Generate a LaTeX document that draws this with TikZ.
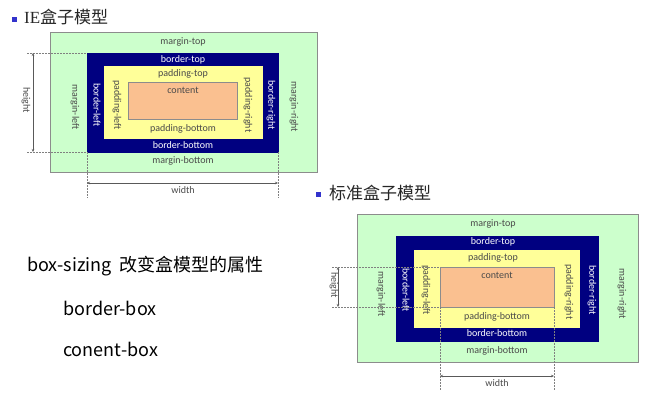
\documentclass[tikz,border=0pt]{standalone}
\usepackage{fontspec}
\setmainfont{Carlito}
\newfontfamily\cjk{Noto Sans CJK SC}
\newfontfamily\titlelat{Liberation Serif}
\usetikzlibrary{arrows.meta}
\definecolor{mgreen}{HTML}{CCFFCC}
\definecolor{bnavy}{HTML}{000080}
\definecolor{pyellow}{HTML}{FFFF99}
\definecolor{corange}{HTML}{FAC090}
\definecolor{lbl}{HTML}{4A4A4A}
\definecolor{bulletc}{HTML}{3333CC}
\definecolor{edgec}{HTML}{8C8C8C}
\begin{document}
\begin{tikzpicture}[x=1pt,y=-1pt,
  boxr/.style={draw=edgec, line width=0.6pt, inner sep=0pt, outer sep=0pt, anchor=north west},
  lab/.style={font=\fontsize{10}{11}\selectfont, text=lbl, inner sep=0pt},
  wlab/.style={lab, text=white},
  vlab/.style={lab, rotate=-90},
  vwlab/.style={wlab, rotate=-90},
  dimdash/.style={draw=gray, line width=0.5pt, dash pattern=on 1.5pt off 1.5pt},
  dimarrow/.style={draw=gray!70!black, line width=0.6pt, {Stealth[length=3pt,width=2.5pt]}-{Stealth[length=3pt,width=2.5pt]}},
  bulletsq/.style={fill=bulletc, inner sep=0pt, minimum size=5pt, anchor=north west},
  ttl/.style={font=\fontsize{17}{19}\selectfont, inner sep=0pt, anchor=west, text=black!85},
  body/.style={font=\cjk\fontsize{18}{21}\selectfont, inner sep=0pt, anchor=west}
]
\useasboundingbox (0,0) rectangle (661,404);

% ---------------- IE box model ----------------
\node[bulletsq] (b1) at (12,17) {};
\node[ttl] (t1) at (24,17) {\titlelat IE\cjk 盒子模型};

\node[boxr, fill=mgreen, minimum width=267pt, minimum height=140pt] (ieM) at (50,32) {};
\node[boxr, draw=bnavy, fill=bnavy, minimum width=191pt, minimum height=99pt] (ieB) at (87,53) {};
\node[boxr, draw=pyellow, fill=pyellow, minimum width=158pt, minimum height=72pt] (ieP) at (104,66) {};
\node[boxr, fill=corange, minimum width=109pt, minimum height=37pt] (ieC) at (128,82) {};

\node[lab] (ie1) at (183,42) {margin-top};
\node[wlab] (ie2) at (183,60) {border-top};
\node[lab] (ie3) at (183,74) {padding-top};
\node[lab] (ie4) at (183,90) {content};
\node[lab] (ie5) at (183,129) {padding-bottom};
\node[wlab] (ie6) at (183,145) {border-bottom};
\node[lab] (ie7) at (183,161) {margin-bottom};
\node[vlab] (ie8) at (75,107) {margin-left};
\node[vwlab] (ie9) at (97,105) {border-left};
\node[vlab] (ie10) at (117,105) {padding-left};
\node[vlab] (ie11) at (248,105) {padding-right};
\node[vwlab] (ie12) at (271,105) {border-right};
\node[vlab] (ie13) at (294,107) {margin-right};

\coordinate (ieh1) at (27,53);
\coordinate (ieh2) at (27,152);
\coordinate (iea1) at (33,53);
\coordinate (iea2) at (33,152);
\draw[dimdash] (ieh1) -- (ieB.north west);
\draw[dimdash] (ieh2) -- (ieB.south west);
\draw[dimarrow] (iea1) -- (iea2);
\node[vlab] (ieh) at (26,100) {height};

\coordinate (iew1) at (87,198);
\coordinate (iew2) at (278,198);
\coordinate (ieb1) at (87,183);
\coordinate (ieb2) at (278,183);
\draw[dimdash] (ieB.south west) -- (iew1);
\draw[dimdash] (ieB.south east) -- (iew2);
\draw[dimarrow] (ieb1) -- (ieb2);
\node[lab] (iew) at (183,190) {width};

% ---------------- standard box model ----------------
\node[bulletsq] (b2) at (316,192) {};
\node[ttl] (t2) at (329,193) {\cjk 标准盒子模型};

\node[boxr, fill=mgreen, minimum width=281pt, minimum height=148pt] (sM) at (357,214) {};
\node[boxr, draw=bnavy, fill=bnavy, minimum width=202pt, minimum height=105pt] (sB) at (396,236) {};
\node[boxr, draw=pyellow, fill=pyellow, minimum width=165pt, minimum height=77pt] (sP) at (414,250) {};
\node[boxr, fill=corange, minimum width=114pt, minimum height=40pt] (sC) at (440,267) {};

\node[lab] (s1) at (493,224) {margin-top};
\node[wlab] (s2) at (493,242) {border-top};
\node[lab] (s3) at (493,258) {padding-top};
\node[lab] (s4) at (497,275) {content};
\node[lab] (s5) at (497,317) {padding-bottom};
\node[wlab] (s6) at (497,333) {border-bottom};
\node[lab] (s7) at (497,351) {margin-bottom};
\node[vlab] (s8) at (381,294) {margin-left};
\node[vwlab] (s9) at (406,290) {border-left};
\node[vlab] (s10) at (426,290) {padding-left};
\node[vlab] (s11) at (569,292) {padding-right};
\node[vwlab] (s12) at (592,290) {border-right};
\node[vlab] (s13) at (622,294) {margin-right};

\coordinate (sh1) at (332,267);
\coordinate (sh2) at (332,307);
\coordinate (sa1) at (338,267);
\coordinate (sa2) at (338,307);
\draw[dimdash] (sh1) -- (sC.north west);
\draw[dimdash] (sh2) -- (sC.south west);
\draw[dimarrow] (sa1) -- (sa2);
\node[vlab] (sh) at (334,285) {height};

\coordinate (sw1) at (440,391);
\coordinate (sw2) at (554,391);
\coordinate (sb1) at (440,376);
\coordinate (sb2) at (554,376);
\draw[dimdash] (sC.south west) -- (sw1);
\draw[dimdash] (sC.south east) -- (sw2);
\draw[dimarrow] (sb1) -- (sb2);
\node[lab] (sw) at (497,383) {width};

% ---------------- text ----------------
\node[body] (x1) at (27,266) {box-sizing\ \ 改变盒模型的属性};
\node[body] (x2) at (63,308) {border-box};
\node[body] (x3) at (63,349) {conent-box};
\end{tikzpicture}
\end{document}
